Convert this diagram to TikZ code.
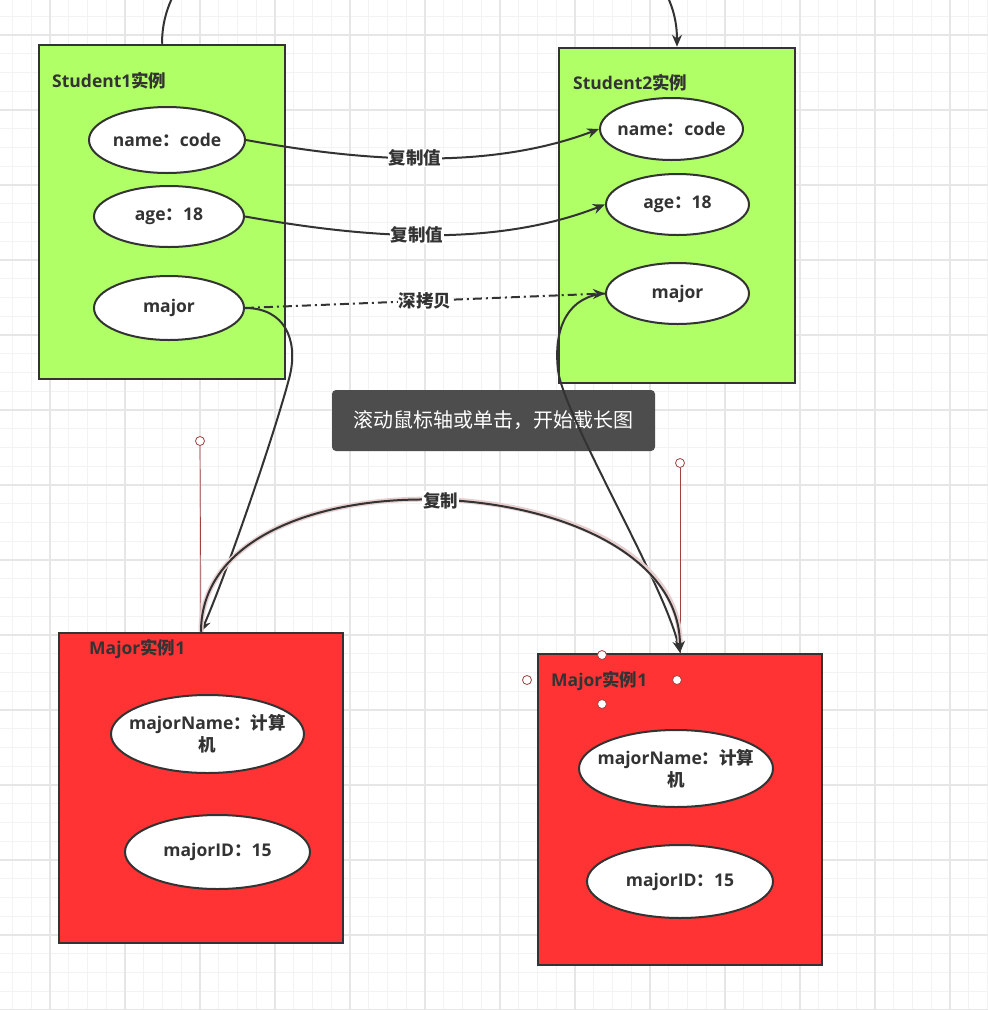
\documentclass[tikz,border=0pt]{standalone}
\usepackage{fontspec}
\setmainfont{Open Sans}
\newfontfamily\cjk{Noto Sans CJK SC}
\usetikzlibrary{arrows.meta,shapes.geometric}
\definecolor{stugreen}{HTML}{B0FF66}
\definecolor{majred}{HTML}{FF3333}
\definecolor{ink}{HTML}{333333}
\definecolor{tipgray}{HTML}{4D4D4D}
\definecolor{gridminor}{HTML}{F3F3F3}
\definecolor{gridmajor}{HTML}{E6E6E6}
\definecolor{handlered}{HTML}{A04040}
\definecolor{glow}{HTML}{E8CFCF}

\begin{document}
\begin{tikzpicture}[x=1pt,y=-1pt,
    instbox/.style={draw=ink,line width=2.5pt,inner sep=0pt},
    fieldell/.style={ellipse,draw=ink,fill=white,line width=2pt,inner xsep=-30pt,inner ysep=-8pt,
      align=center,text=ink,font=\bfseries\fontsize{17.5}{22}\selectfont},
    boxtitle/.style={anchor=west,inner sep=0pt,text=ink,font=\bfseries\fontsize{17.5}{21}\selectfont},
    copyarrow/.style={draw=ink,line width=2pt,-{Stealth[length=12pt,width=10pt]}},
    edgelabel/.style={fill=white,inner sep=1pt,text=ink,font=\cjk\bfseries\fontsize{17.5}{21}\selectfont},
    selhandle/.style={circle,draw=handlered,fill=white,line width=0.8pt,minimum size=9pt,inner sep=0pt},
    selguide/.style={draw=handlered,line width=0.7pt}]
  \useasboundingbox (0,0) rectangle (988,1010);
  \clip (0,0) rectangle (988,1010);
  \fill[white] (0,0) rectangle (988,1010);
  \foreach \k in {-2,...,54} {
    \draw[gridminor,line width=1.2pt] ({50+18.75*\k},0) -- ({50+18.75*\k},1010);
    \draw[gridminor,line width=1.2pt] (0,{35+18.75*\k}) -- (988,{35+18.75*\k});
  }
  \foreach \k in {-1,...,13} {
    \draw[gridmajor,line width=1.2pt] ({50+75*\k},0) -- ({50+75*\k},1010);
    \draw[gridmajor,line width=1.2pt] (0,{35+75*\k}) -- (988,{35+75*\k});
  }

  \node[instbox,fill=stugreen,minimum width=246pt,minimum height=334pt] (stu1) at (162,212) {};
  \node[instbox,fill=stugreen,minimum width=236pt,minimum height=335pt] (stu2) at (677,215.5) {};
  \node[instbox,fill=majred,minimum width=284pt,minimum height=310pt] (maj1) at (201,788) {};
  \node[instbox,fill=majred,minimum width=284pt,minimum height=311pt] (maj2) at (680,809.5) {};

  \node[boxtitle] (stu1t) at (52,81) {Student1{\cjk 实例}};
  \node[boxtitle] (stu2t) at (573,83) {Student2{\cjk 实例}};
  \node[boxtitle] (maj1t) at (89,649) {Major{\cjk 实例}1};
  \node[boxtitle] (maj2t) at (551,681) {Major{\cjk 实例}1};

  \node[fieldell,minimum width=156pt,minimum height=66pt] (s1name) at (167,140) {name{\cjk ：}code};
  \node[fieldell,minimum width=150pt,minimum height=61pt] (s1age) at (169,216.5) {age{\cjk ：}18};
  \node[fieldell,minimum width=150pt,minimum height=64pt] (s1major) at (169,308) {major};
  \node[fieldell,minimum width=143pt,minimum height=62pt] (s2name) at (671.5,129) {name{\cjk ：}code};
  \node[fieldell,minimum width=143pt,minimum height=61pt] (s2age) at (677.5,204.5) {age{\cjk ：}18};
  \node[fieldell,minimum width=143pt,minimum height=61pt] (s2major) at (677.5,293.5) {major};
  \node[fieldell,minimum width=193pt,minimum height=78pt] (m1name) at (207.5,734) {majorName{\cjk ：计算}\\{\cjk 机}};
  \node[fieldell,minimum width=185pt,minimum height=74pt] (m1id) at (217.5,852) {majorID{\cjk ：}15};
  \node[fieldell,minimum width=194pt,minimum height=77pt] (m2name) at (676,768.5) {majorName{\cjk ：计算}\\{\cjk 机}};
  \node[fieldell,minimum width=186pt,minimum height=73pt] (m2id) at (680,881.5) {majorID{\cjk ：}15};

  \node[fill=tipgray,rounded corners=4pt,minimum width=323pt,minimum height=61pt,text=white,
    font=\cjk\fontsize{20}{24}\selectfont] (tip) at (493.5,420.5) {滚动鼠标轴或单击，开始截长图};

  \node[selhandle] (g1) at (200,441) {};
  \node[selhandle] (g2) at (680,463) {};
  \draw[selguide] (g1) -- (maj1.north);
  \draw[selguide] (g2) -- (maj2.north);

  \draw[copyarrow] (stu1.north) .. controls +(0,-200) and +(0,-200) .. (stu2.north);
  \draw[copyarrow] (s1name.east) .. controls (345,158) and (480,174) .. (s2name.west)
    node[edgelabel,pos=0.5] (lbl1) {复制值};
  \draw[copyarrow] (s1age.east) .. controls (344,234) and (484,252) .. (s2age.west)
    node[edgelabel,pos=0.5] (lbl2) {复制值};
  \draw[copyarrow,dash pattern=on 9pt off 4pt on 2pt off 4pt] (s1major.east) -- (s2major.west)
    node[edgelabel,pos=0.5] (lbl3) {深拷贝};
  \draw[copyarrow] (s1major.east) .. controls (285,308) and (298,340) .. (290,375)
    .. controls (276,430) and (225,578) .. (maj1.north);
  \draw[copyarrow] (s2major.west) .. controls (570,296) and (553,325) .. (558,370)
    .. controls (563,415) and (665,585) .. (maj2.north);
  \draw[glow,line width=5pt,shorten >=10pt] (maj1.north) .. controls (201,443) and (680,464) .. (maj2.north);
  \draw[copyarrow] (maj1.north) .. controls (201,443) and (680,464) .. (maj2.north)
    node[edgelabel,pos=0.5] (lbl4) {复制};

  \node[selhandle] (h1) at (602,655) {};
  \node[selhandle] (h2) at (527,680) {};
  \node[selhandle] (h3) at (677,680) {};
  \node[selhandle] (h4) at (602,704) {};
\end{tikzpicture}
\end{document}
